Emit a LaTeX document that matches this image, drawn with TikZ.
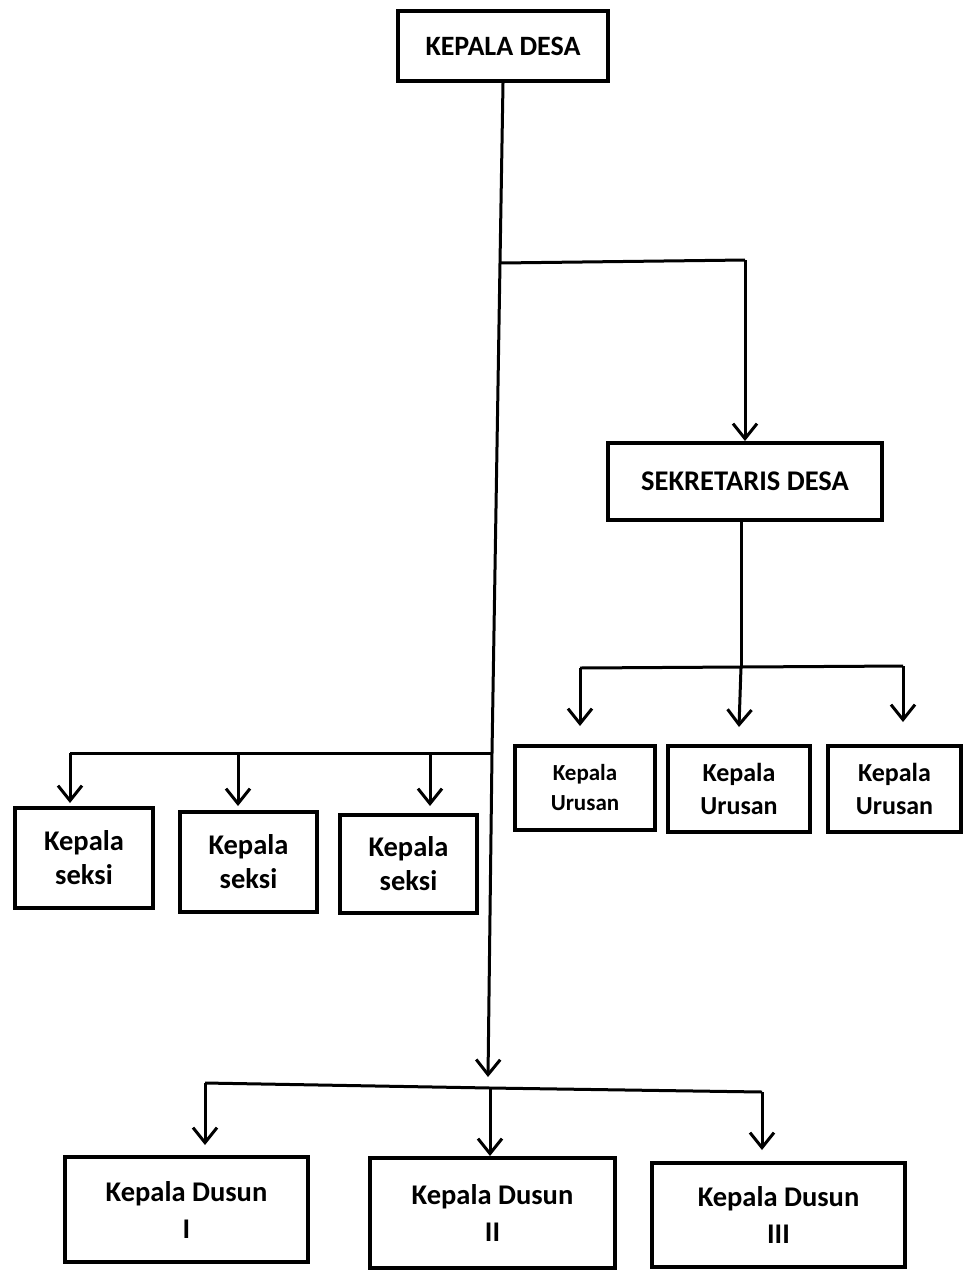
\documentclass[tikz,border=0pt]{standalone}
\usepackage{fontspec}
\setmainfont{Carlito}
\usetikzlibrary{arrows.meta,calc}
\begin{document}
\begin{tikzpicture}[x=1pt,y=-1pt,
  box/.style={draw,line width=4pt,align=center,inner sep=0pt,font=\bfseries},
  conn/.style={line width=3pt},
  arr/.style={conn,-{Straight Barb[length=15pt,width=24pt,line width=3pt]}}]
\useasboundingbox (0,0) rectangle (963,1270);
\fill[white] (0,0) rectangle (963,1270);
% nodes
\node[box,minimum width=210pt,minimum height=70pt,font=\bfseries\fontsize{28}{30}\selectfont] (kd) at (503,46) {KEPALA DESA};
\node[box,minimum width=274pt,minimum height=77pt,font=\bfseries\fontsize{28.5}{30}\selectfont] (sek) at (745,481.5) {SEKRETARIS DESA};
\node[box,minimum width=140pt,minimum height=84pt,font=\bfseries\fontsize{23}{30}\selectfont] (u1) at (585,788) {Kepala\\Urusan};
\node[box,minimum width=142pt,minimum height=86pt,font=\bfseries\fontsize{26}{33}\selectfont] (u2) at (739,789) {Kepala\\Urusan};
\node[box,minimum width=133pt,minimum height=86pt,font=\bfseries\fontsize{26}{33}\selectfont] (u3) at (894.5,789) {Kepala\\Urusan};
\node[box,minimum width=138pt,minimum height=100pt,font=\bfseries\fontsize{28.5}{34}\selectfont] (s1) at (84,858) {Kepala\\seksi};
\node[box,minimum width=137pt,minimum height=100pt,font=\bfseries\fontsize{28.5}{34}\selectfont] (s2) at (248.5,862) {Kepala\\seksi};
\node[box,minimum width=137pt,minimum height=98pt,font=\bfseries\fontsize{28.5}{34}\selectfont] (s3) at (408.5,864) {Kepala\\seksi};
\node[box,minimum width=243pt,minimum height=105pt,font=\bfseries\fontsize{28.5}{37}\selectfont] (d1) at (186.5,1209.5) {Kepala Dusun\\I};
\node[box,minimum width=245pt,minimum height=110pt,font=\bfseries\fontsize{28.5}{37}\selectfont] (d2) at (492.5,1213) {Kepala Dusun\\II};
\node[box,minimum width=253pt,minimum height=104pt,font=\bfseries\fontsize{28.5}{37}\selectfont] (d3) at (778.5,1215) {Kepala Dusun\\III};
% junctions
\coordinate (j1) at (500,263);
\coordinate (j1r) at (745,260);
\coordinate (j2) at (741,667);
\coordinate (j2l) at (580,668);
\coordinate (j2r) at (903,666);
\coordinate (j3) at (492,753);
\coordinate (j3l) at (70,753);
\coordinate (j3m) at (238,753);
\coordinate (j3r) at (430,753);
\coordinate (mt) at (488,1077);
\coordinate (j4l) at (205,1083);
\coordinate (j4m) at (490,1088);
\coordinate (j4r) at (762,1092);
% connectors
\draw[arr] (kd.south) -- (j1) -- (j3) -- (mt);
\draw[conn] (j1) -- (j1r);
\draw[arr] (j1r) -- (sek.north);
\draw[conn] (sek.south -| j2) -- (j2);
\draw[conn] (j2l) -- (j2) -- (j2r);
\draw[arr] (j2l) -- ($(u1.north)+(-5,-18)$);
\draw[arr] (j2) -- ($(u2.north)+(0,-17)$);
\draw[arr] (j2r) -- ($(u3.north)+(8.5,-22)$);
\draw[conn] (j3l) -- (j3);
\draw[arr] (j3l) -- ($(s1.north)+(-14,-3)$);
\draw[arr] (j3m) -- ($(s2.north)+(-10.5,-4)$);
\draw[arr] (j3r) -- ($(s3.north)+(21.5,-7)$);
\draw[conn] (j4l) -- (j4m) -- (j4r);
\draw[arr] (j4l) -- ($(d1.north)+(18.5,-10)$);
\draw[arr] (j4m) -- ($(d2.north)+(-2.5,0)$);
\draw[arr] (j4r) -- ($(d3.north)+(-16.5,-11)$);
\end{tikzpicture}
\end{document}
